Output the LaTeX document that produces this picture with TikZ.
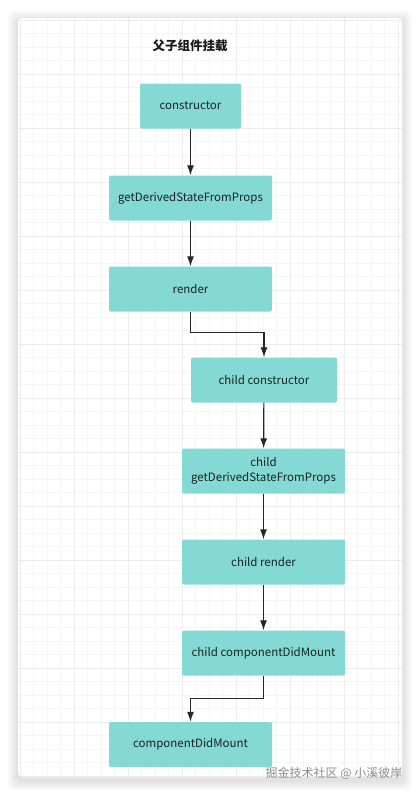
\documentclass[tikz,border=0pt]{standalone}
\usepackage{fontspec}
\setmainfont{Noto Sans CJK SC}
\usetikzlibrary{arrows.meta}
\definecolor{boxteal}{RGB}{132,217,212}
\definecolor{boxtext}{RGB}{25,35,35}
\begin{document}
\begin{tikzpicture}[
  x=1pt, y=-1pt,
  every node/.style={font=\fontsize{11.5}{13.5}\selectfont, text=boxtext},
  hook/.style={draw=none, fill=boxteal, rounded corners=2pt, minimum height=45pt,
    inner sep=2pt, align=center},
  link/.style={draw=black!85, line width=1.2pt, -{Latex[length=10pt,width=7pt]}}
]
\useasboundingbox (0,0) rectangle (420,795);

% card with a soft shadow
\foreach \s in {10,8,6,4,2}
  \fill[black, opacity=0.025, rounded corners=6pt]
    (18-\s,18-\s+3) rectangle (402+\s,777+\s+3);
\fill[white, rounded corners=4pt] (18,18) rectangle (402,777);
\begin{scope}
  \clip[rounded corners=4pt] (18,18) rectangle (402,777);
  \foreach \i in {0,...,29}
    \draw[black!4, line width=0.6pt] (20+13.5*\i,18) -- (20+13.5*\i,777);
  \foreach \i in {0,...,57}
    \draw[black!4, line width=0.6pt] (18,20+13.5*\i) -- (402,20+13.5*\i);
  \foreach \i in {0,...,7}
    \draw[black!7, line width=0.8pt] (20+54*\i,18) -- (20+54*\i,777);
  \foreach \i in {0,...,14}
    \draw[black!7, line width=0.8pt] (18,20+54*\i) -- (402,20+54*\i);
\end{scope}

% title
\node[font=\fontsize{12.5}{14}\selectfont\bfseries, text=black!90] (title) at (190,46) {父子组件挂载};

% parent and child hooks
\node[hook, minimum width=101pt] (ctor) at (190.5,106) {constructor};
\node[hook, minimum width=163pt] (gdsfp) at (190.5,198) {getDerivedStateFromProps};
\node[hook, minimum width=163pt] (render) at (190.5,289) {render};
\node[hook, minimum width=146pt] (cctor) at (264,380) {child constructor};
\node[hook, minimum width=163pt] (cgdsfp) at (263.5,471) {child\\[1pt]getDerivedStateFromProps};
\node[hook, minimum width=163pt] (crender) at (263.5,562) {child render};
\node[hook, minimum width=163pt] (cdidmount) at (263.5,653) {child componentDidMount};
\node[hook, minimum width=163pt] (didmount) at (190.5,744.5) {componentDidMount};

% connectors
\draw[link] (ctor) -- (gdsfp);
\draw[link] (gdsfp) -- (render);
\draw[link] (render.south) |- ([yshift=25pt]cctor.north) -- (cctor.north);
\draw[link] (cctor) -- (cgdsfp);
\draw[link] (cgdsfp) -- (crender);
\draw[link] (crender) -- (cdidmount);
\draw[link] (cdidmount.south) |- ([yshift=23pt]didmount.north) -- (didmount.north);

% watermark
\node[anchor=east, font=\fontsize{12}{14}\selectfont, text=black!45] (mark) at (406,773) {掘金技术社区 @ 小溪彼岸};
\end{tikzpicture}
\end{document}
